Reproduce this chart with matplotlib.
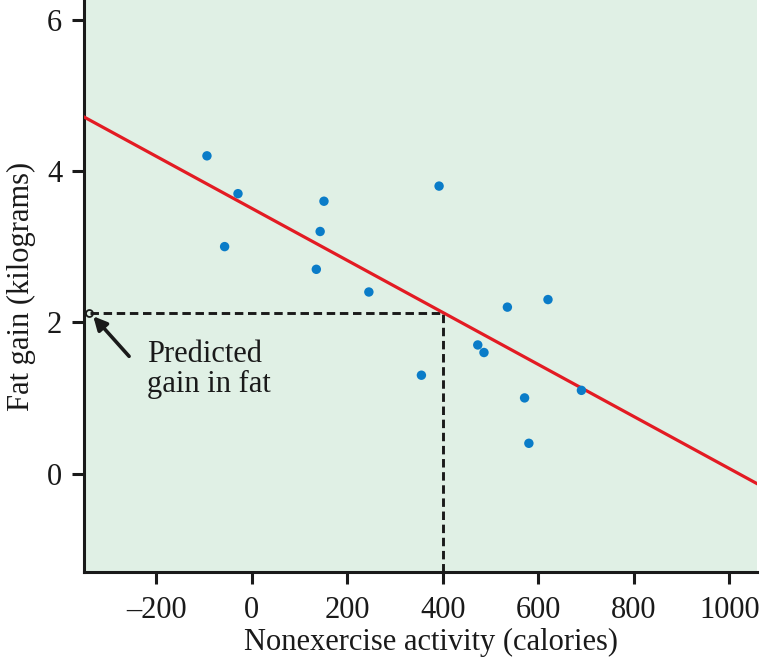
import matplotlib
matplotlib.use("Agg")
import matplotlib.pyplot as plt
import numpy as np

# Data
nea = [-94, -57, -29, 135, 143, 151, 245, 355, 392, 473, 486, 535, 571, 580, 620, 690]
fat = [4.2, 3.0, 3.7, 2.7, 3.2, 3.6, 2.4, 1.3, 3.8, 1.7, 1.6, 2.2, 1.0, 0.4, 2.3, 1.1]
intercept = 3.505
slope = -0.00344
x_pred = 400
x_ticks = [-200, 0, 200, 400, 600, 800, 1000]
x_tick_labels = ['\u2013200', '0', '200', '400', '600', '800', '1000']
y_ticks = [0, 2, 4, 6]

plt.rcParams['font.family'] = ['Liberation Serif', 'DejaVu Serif']

FS = 22
INK = '#1a1a1a'

fig = plt.figure(figsize=(7.61, 6.65), dpi=100)
ax = fig.add_axes([0.110, 0.140, 0.885, 0.860])
ax.set_facecolor('#e0f0e5')

xmin, xmax = -352, 1058
ymin, ymax = -1.3, 6.26
ax.set_xlim(xmin, xmax)
ax.set_ylim(ymin, ymax)

xs = np.array([xmin, xmax])
ax.plot(xs, intercept + slope * xs, color='#e31b23', lw=2.3, zorder=3)

ax.scatter(nea, fat, s=46, color='#0a7cc8', zorder=4, edgecolors='none')

y_pred = intercept + slope * x_pred
dash = (0, (2.9, 1.6))
ax.plot([-338, x_pred], [y_pred, y_pred], color=INK, lw=2.1, linestyle=dash, zorder=2)
ax.plot([x_pred, x_pred], [ymin, y_pred], color=INK, lw=2.1, linestyle=dash, zorder=2)
ax.plot([-340], [y_pred], marker='o', markersize=5, mfc='none', mec=INK,
        mew=1.3, zorder=5)

ax.annotate('', xy=(-332, y_pred - 0.05), xytext=(-257, 1.55),
            arrowprops=dict(arrowstyle='-|>,head_length=0.8,head_width=0.4',
                            color=INK, lw=2.6, shrinkA=0, shrinkB=0))
ax.text(-220, 1.38, 'Predicted\ngain in fat', fontsize=FS, color=INK,
        va='center', ha='left', linespacing=1.05)

for s in ['top', 'right']:
    ax.spines[s].set_visible(False)
for s in ['left', 'bottom']:
    ax.spines[s].set_linewidth(2.2)
    ax.spines[s].set_color(INK)

ax.set_xticks(x_ticks)
ax.set_xticklabels(x_tick_labels)
ax.set_yticks(y_ticks)
ax.tick_params(axis='both', direction='out', length=8.5, width=2.2, color=INK,
               labelsize=FS, labelcolor=INK, pad=7)
ax.tick_params(axis='x', pad=9)

ax.set_xlabel('Nonexercise activity (calories)', fontsize=FS, color=INK)
ax.xaxis.set_label_coords(0.515, -0.098)
ax.set_ylabel('Fat gain (kilograms)', fontsize=FS, color=INK, labelpad=8)

fig.savefig('out.png', dpi=100)
